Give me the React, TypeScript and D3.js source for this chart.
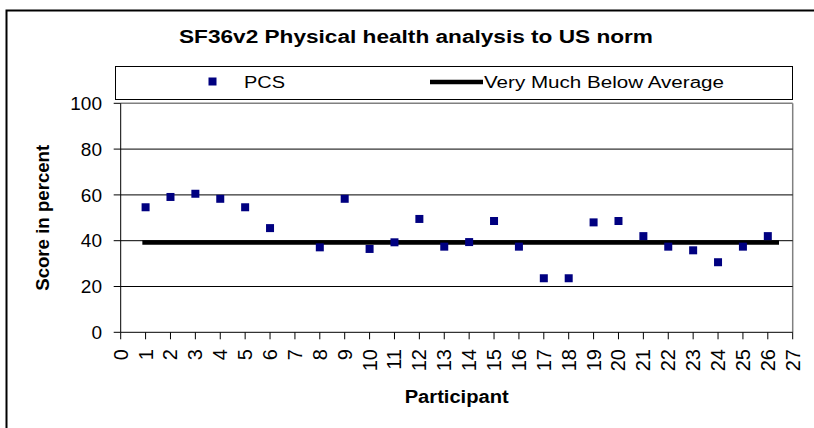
import React from "react";
import * as d3 from "d3";

const participants = [1,2,3,4,5,6,7,8,9,10,11,12,13,14,15,16,17,18,19,20,21,22,23,24,25,26];
const pcsValues: (number | null)[] = [54.6, 59.1, 60.5, 58.3, 54.6, 45.5, null, 37.1, 58.3, 36.4, 39.3, 49.5, 37.4, 39.4, 48.6, 37.4, 23.6, 23.6, 48.0, 48.6, 42.0, 37.4, 35.8, 30.6, 37.4, 42.0];
const normLineX = [0.87, 26.45];
const normLineY = [39.2, 39.2];
const yTicks = [0, 20, 40, 60, 80, 100];
const xTicks = d3.range(0, 28);
const title = "SF36v2 Physical health analysis to US norm";
const seriesNames = ["PCS", "Very Much Below Average"];

const W = 814, H = 428;
const plot = { left: 120.7, right: 792.7, top: 103.3, bottom: 332.3 };
const FONT = "Liberation Sans, Arial, sans-serif";

export default function App() {
  const x = d3.scaleLinear().domain([0, 27]).range([plot.left, plot.right]);
  const y = d3.scaleLinear().domain([0, 100]).range([plot.bottom, plot.top]);
  const line = d3.line<number>().x((d) => x(d)).y((_, i) => y(normLineY[i]));
  const pts = participants
    .map((p, i) => ({ p, v: pcsValues[i] }))
    .filter((d) => d.v !== null) as { p: number; v: number }[];
  const ms = 8;
  return (
    <svg width={W} height={H} style={{ position: "absolute", left: 0, top: 0, background: "#fff" }} fontFamily={FONT}>
      <rect x={0} y={0} width={W} height={H} fill="#fff" />
      <rect x={6.5} y={10.5} width={830} height={440} fill="none" stroke="#000" strokeWidth={2} />
      <text x={416} y={43} textAnchor="middle" fontWeight="bold" fontSize={18} textLength={474} lengthAdjust="spacingAndGlyphs">{title}</text>
      {/* legend */}
      <rect x={115.5} y={66.5} width={677} height={33} fill="#fff" stroke="#000" strokeWidth={1} />
      <rect x={208.5} y={77.5} width={8} height={8} fill="#000080" />
      <text x={244} y={88} fontSize={16} textLength={41} lengthAdjust="spacingAndGlyphs">{seriesNames[0]}</text>
      <line x1={430} x2={483} y1={82} y2={82} stroke="#000" strokeWidth={4.5} />
      <text x={484} y={88} fontSize={16} textLength={240} lengthAdjust="spacingAndGlyphs">{seriesNames[1]}</text>
      {/* plot frame */}
      <line x1={plot.left} x2={plot.right} y1={plot.top} y2={plot.top} stroke="#808080" strokeWidth={1.5} />
      <line x1={plot.right} x2={plot.right} y1={plot.top} y2={plot.bottom} stroke="#808080" strokeWidth={1.5} />
      {yTicks.filter((t) => t > 0 && t < 100).map((t) => (
        <line key={t} x1={plot.left} x2={plot.right} y1={y(t)} y2={y(t)} stroke="#000" strokeWidth={1} />
      ))}
      {/* y axis */}
      <line x1={plot.left} x2={plot.left} y1={plot.top} y2={plot.bottom} stroke="#000" strokeWidth={1} />
      {yTicks.map((t) => (
        <g key={t}>
          <line x1={plot.left - 7} x2={plot.left} y1={y(t)} y2={y(t)} stroke="#000" />
          <text x={102} y={y(t)} dy="0.35em" textAnchor="end" fontSize={19}>{t}</text>
        </g>
      ))}
      {/* x axis */}
      <line x1={plot.left} x2={plot.right} y1={plot.bottom} y2={plot.bottom} stroke="#000" strokeWidth={1} />
      {xTicks.map((t) => (
        <g key={t}>
          <line x1={x(t)} x2={x(t)} y1={plot.bottom} y2={plot.bottom + 7} stroke="#000" />
          <text transform={`translate(${x(t)},${349}) rotate(-90)`} dy="0.35em" textAnchor="end" fontSize={20}>{t}</text>
        </g>
      ))}
      {/* norm line */}
      <path d={line(normLineX) || ""} fill="none" stroke="#000" strokeWidth={4.5} />
      {/* points */}
      {pts.map((d) => (
        <rect key={d.p} x={x(d.p) - ms / 2} y={y(d.v) - ms / 2} width={ms} height={ms} fill="#000080" />
      ))}
      <text x={(plot.left + plot.right) / 2} y={403} textAnchor="middle" fontWeight="bold" fontSize={18} textLength={104} lengthAdjust="spacingAndGlyphs">Participant</text>
      <text transform={`translate(49,${(plot.top + plot.bottom) / 2}) rotate(-90)`} textAnchor="middle" fontWeight="bold" fontSize={18} textLength={146} lengthAdjust="spacingAndGlyphs">Score in percent</text>
    </svg>
  );
}
